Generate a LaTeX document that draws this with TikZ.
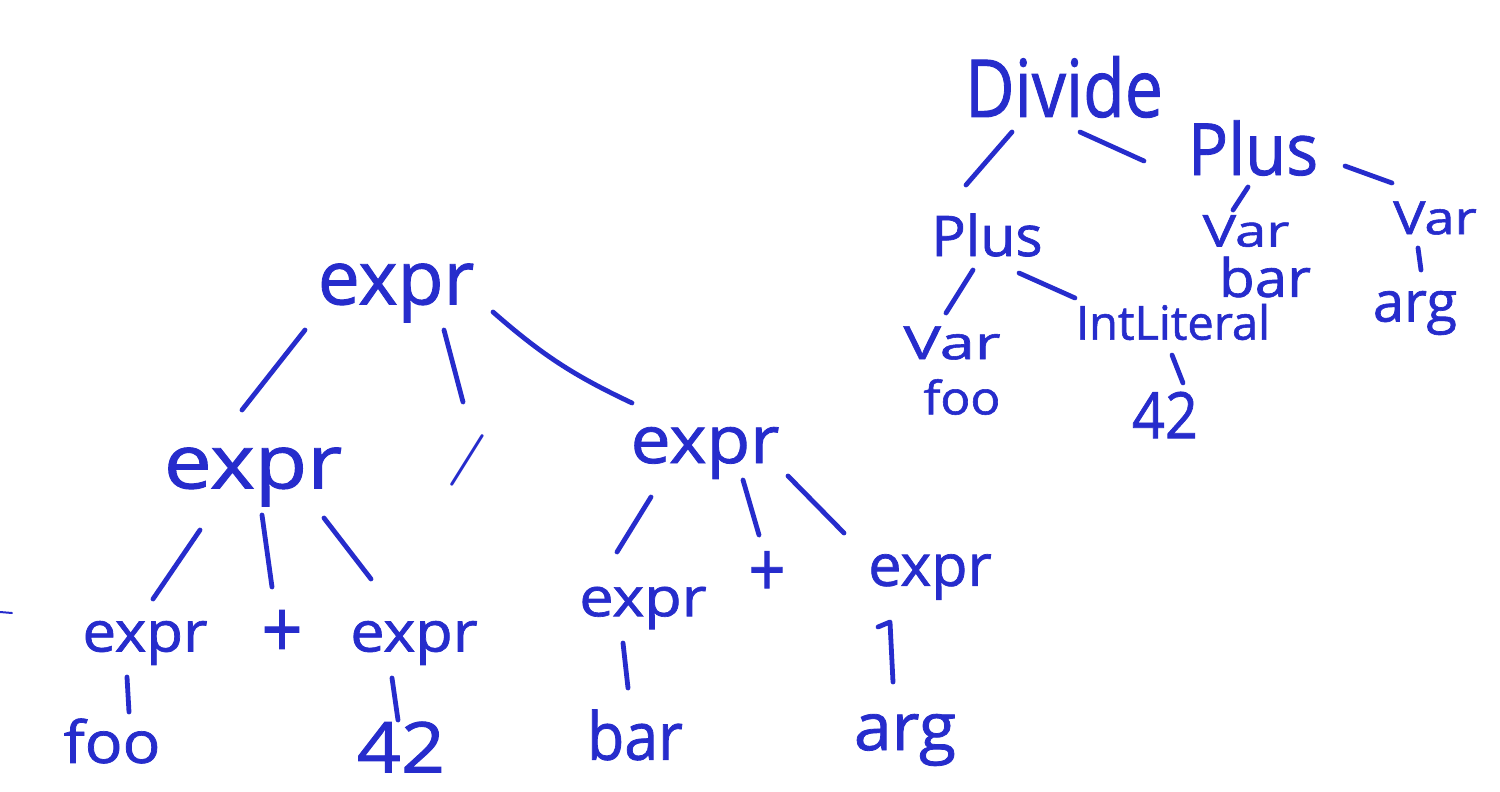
\documentclass[tikz,border=0pt]{standalone}
\usepackage{fontspec}
\usepackage{graphicx}
\newfontfamily\handfont{Open Sans}[RawFeature={embolden=1.2}]
\usetikzlibrary{calc}
\definecolor{ink}{RGB}{38,44,204}
\newcommand{\hstretch}[2]{\scalebox{#1}[1]{#2}}
\tikzset{
  lbl/.style={inner sep=0pt, text=ink, font=\handfont\fontsize{#1}{#1}\selectfont},
  slashlbl/.style={inner sep=0pt, text=ink, font=\fontsize{#1}{#1}\selectfont\bfseries},
  edge/.style={draw=ink, line width=4.8pt, line cap=round, line join=round},
}
\begin{document}
\begin{tikzpicture}[x=1pt,y=-1pt]
\fill[white] (0,0) rectangle (1500,792);
\useasboundingbox (0,0) rectangle (1500,792);

% ---------- left tree (parse tree) ----------
\node[lbl=75] (R)   at (396,293) {\hstretch{1.0}{expr}};
\node[lbl=75] (E1)  at (253,477) {\hstretch{1.14}{expr}};
\node[slashlbl=56] (SL) at (467,460) {\rotatebox{-10}{/}};
\node[lbl=66] (E2)  at (705,453) {\hstretch{1.08}{expr}};
\node[lbl=56] (E11) at (145,643) {\hstretch{1.07}{expr}};
\node[lbl=80] (P1)  at (282,634) {\hstretch{0.9}{+}};
\node[lbl=56] (E12) at (414,643) {\hstretch{1.09}{expr}};
\node[lbl=54] (E21) at (643,608) {\hstretch{1.13}{expr}};
\node[lbl=76] (P2)  at (767,574) {\hstretch{0.85}{+}};
\node[lbl=58] (E22) at (930,577) {\hstretch{1.02}{expr}};
\node[lbl=58] (FOO) at (112,741) {\hstretch{1.08}{foo}};
\node[lbl=70] (N42) at (401,747) {\hstretch{1.1}{42}};
\node[lbl=66] (BAR) at (635,735) {\hstretch{0.92}{bar}};
\node[lbl=66] (ARG) at (905,740) {\hstretch{1.03}{arg}};

\draw[edge] ($(R)+(-91,37)$) -- ($(E1)+(-11,-67)$);
\draw[edge] ($(R)+(48,37)$) -- ($(SL)+(-4,-58)$);
\draw[edge] ($(R)+(97,19)$) to[bend right=8] ($(E2)+(-73,-50)$);
\draw[edge] ($(E1)+(-53,53)$) -- ($(E11)+(8,-44)$);
\draw[edge] ($(E1)+(9,38)$) -- ($(P1)+(-10,-47)$);
\draw[edge] ($(E1)+(71,41)$) -- ($(E12)+(-43,-64)$);
\draw[edge] ($(E2)+(-54,44)$) -- ($(E21)+(-26,-56)$);
\draw[edge] ($(E2)+(38,27)$) -- ($(P2)+(-8,-39)$);
\draw[edge] ($(E2)+(83,23)$) -- ($(E22)+(-86,-44)$);
\draw[edge] ($(E11)+(-18,34)$) -- ($(FOO)+(17,-29)$);
\draw[edge] ($(E12)+(-22,35)$) -- ($(N42)+(-3,-27)$);
\draw[edge] ($(E21)+(-20,35)$) -- ($(BAR)+(-7,-47)$);
\draw[edge] ($(E22)+(-52,50)$) -- ($(E22)+(-40,45)$) -- ($(ARG)+(-12,-58)$);

% stray mark at left edge
\draw[edge, line width=2pt] (0,612) -- (12,613);

% ---------- right tree (AST) ----------
\node[lbl=80] (D)   at (1064,87)  {\hstretch{0.85}{Divide}};
\node[lbl=72] (PR)  at (1253,148) {\hstretch{0.93}{Plus}};
\node[lbl=56] (PL)  at (987,235)  {\hstretch{1.02}{Plus}};
\node[lbl=44] (VM)  at (1246,231) {\hstretch{1.28}{Var}};
\node[lbl=53] (BM)  at (1265,277) {\hstretch{1.1}{bar}};
\node[lbl=46] (VR)  at (1435,218) {\hstretch{1.18}{Var}};
\node[lbl=56] (AR)  at (1415,313) {\hstretch{1.0}{arg}};
\node[lbl=46] (VL)  at (952,343)  {\hstretch{1.37}{Var}};
\node[lbl=46] (FL)  at (962,397)  {\hstretch{1.08}{foo}};
\node[lbl=47] (IL)  at (1173,322) {\hstretch{1.0}{IntLiteral}};
\node[lbl=64] (N42R) at (1165,415) {\hstretch{0.9}{42}};

\draw[edge] ($(D)+(-52,45)$) -- ($(PL)+(-21,-50)$);
\draw[edge] ($(D)+(16,45)$) -- ($(PR)+(-109,13)$);
\draw[edge] ($(PR)+(-5,39)$) -- ($(VM)+(-13,-21)$);
\draw[edge] ($(PR)+(92,18)$) -- ($(VR)+(-43,-35)$);
\draw[edge] ($(PL)+(-14,35)$) -- ($(VL)+(-6,-30)$);
\draw[edge] ($(PL)+(32,38)$) -- ($(IL)+(-98,-24)$);
\draw[edge] ($(IL)+(-1,33)$) -- ($(N42R)+(18,-32)$);
\draw[edge] ($(VR)+(-17,30)$) -- ($(AR)+(6,-43)$);
\end{tikzpicture}
\end{document}
